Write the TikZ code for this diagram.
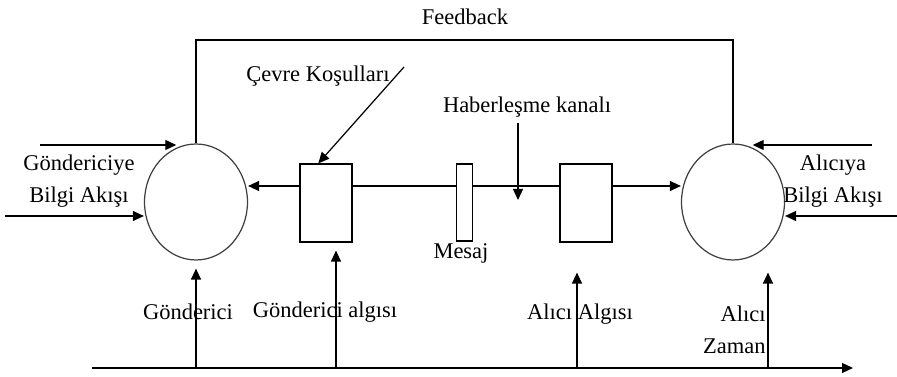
\documentclass[tikz,border=0pt]{standalone}
\usepackage{fontspec}
\setmainfont{Liberation Serif}
\usepackage{tikz}
\usetikzlibrary{shapes.geometric,arrows.meta}

\begin{document}
\begin{tikzpicture}[
    x=0.02cm, y=-0.02cm,
    party/.style={draw=black!75, ellipse, line width=0.7pt, minimum width=2.06cm, minimum height=2.32cm, inner sep=0pt},
    percbox/.style={draw, line width=0.7pt, minimum width=1.04cm, minimum height=1.56cm, inner sep=0pt},
    msgbox/.style={draw, line width=0.7pt, minimum width=0.32cm, minimum height=1.54cm, inner sep=0pt},
    label/.style={font=\fontsize{12.8}{18.5}\selectfont, inner sep=0pt, align=center},
    line/.style={line width=0.7pt},
    arrow/.style={-{Triangle[length=0.22cm,width=0.2cm]}, line width=0.7pt}
]
\useasboundingbox (0,0) rectangle (897,377);

\node[party] (snd) at (196,202) {};
\node[party] (rcv) at (733,202) {};
\node[percbox] (perc1) at (326,203) {};
\node[msgbox] (msg) at (464.5,202.5) {};
\node[percbox] (perc2) at (586,203) {};

% channel
\coordinate (lane) at (0,186);
\draw[arrow] (perc1.west |- lane) -- (snd.east |- lane);
\draw[line] (perc1.east |- lane) -- (msg.west |- lane);
\draw[line] (msg.east |- lane) -- (perc2.west |- lane);
\draw[arrow] (perc2.east |- lane) -- (rcv.west |- lane);

% feedback loop
\coordinate (fb) at (465,40);
\draw[line] (snd.north) |- (fb) -| (rcv.north);

% side inputs
\coordinate (sin1) at (40,145);
\coordinate (sin2) at (5,216);
\coordinate (rin1) at (872,145);
\coordinate (rin2) at (897,216);
\draw[arrow] (sin1) -- (sin1 -| snd.110);
\draw[arrow] (sin2) -- (sin2 -| snd.west);
\draw[arrow] (rin1) -- (rin1 -| rcv.70);
\draw[arrow] (rin2) -- (rin2 -| rcv.east);

% noise and channel
\coordinate (env) at (404,67);
\draw[arrow] (env) -- (perc1.101);
\coordinate (chtop) at (518,123);
\coordinate (chtip) at (518,200);
\draw[arrow] (chtop) -- (chtip);

% time line
\coordinate (tstart) at (92,368);
\coordinate (tend) at (853,368);
\coordinate (t1) at (336,368);
\coordinate (t2) at (577,368);
\coordinate (t3) at (768,368);
\draw[arrow] (tstart) -- (tend);
\draw[arrow, shorten >=0.16cm] (snd.south |- tstart) -- (snd.south);
\draw[arrow, shorten >=0.16cm] (t1) -- (t1 |- perc1.south);
\draw[arrow, shorten >=0.6cm] (t2) -- (t2 |- perc2.south);
\draw[arrow, shorten >=0.24cm] (t3) -- (t3 |- rcv.south);

% annotations
\node[label] (fbtext) at (465,17) {Feedback};
\node[label] (envtext) at (318,76) {Çevre Koşulları};
\node[label] (chtext) at (527,107) {Haberleşme kanalı};
\node[label] (msgtext) at (461,253) {Mesaj};
\node[label] (sndin) at (79,181) {Göndericiye\\Bilgi Akışı};
\node[label] (rcvin) at (833,181) {Alıcıya\\Bilgi Akışı};
\node[label] (sndtext) at (188,312) {Gönderici};
\node[label] (perc1text) at (325,312) {Gönderici algısı};
\node[label] (perc2text) at (580,314) {Alıcı Algısı};
\node[label, align=right, anchor=east] (rcvtext) at (766,330) {Alıcı\\Zaman};
\end{tikzpicture}
\end{document}
